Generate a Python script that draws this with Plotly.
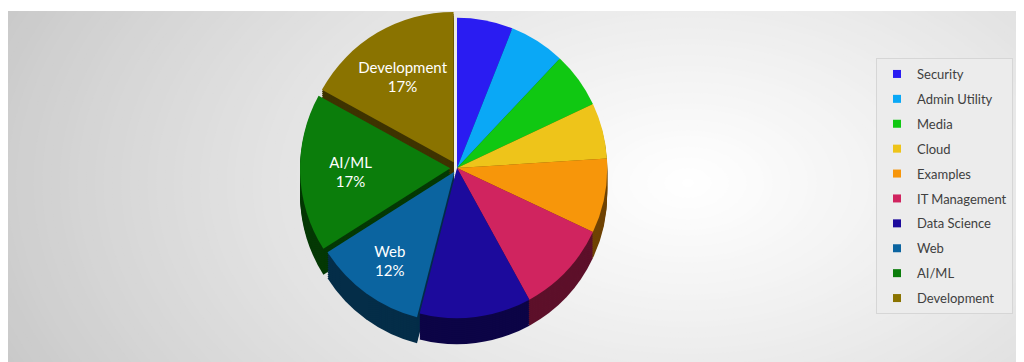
import plotly.graph_objects as go

W, H = 1024, 362

# ---- data ----
categories = ["Security", "Admin Utility", "Media", "Cloud", "Examples",
              "IT Management", "Data Science", "Web", "AI/ML", "Development"]
shares = [6, 6, 6, 6, 8, 10, 12, 12, 17, 17]
labelled = ["Web", "AI/ML", "Development"]

colors = ["#2a1cf2", "#0aa8f6", "#10c812", "#eec41a", "#f7960a",
          "#d0245f", "#1c0a9c", "#0b64a0", "#0b7d0b", "#8a7300"]
pulls = [0, 0, 0, 0, 0, 0, 0, 0.03, 0.045, 0.045]


def darken(hexc, f):
    h = hexc.lstrip("#")
    r, g, b = (int(h[i:i + 2], 16) for i in (0, 2, 4))
    return "#%02x%02x%02x" % (int(r * f), int(g * f), int(b * f))


side_colors = [darken(c, 0.45) for c in colors]

# pie geometry in pixels
cx, cy, half = 449, 160, 157  # centre (from top) and half domain size


def domain(offset):
    yc = H - (cy + offset)
    return dict(x=[(cx - half) / W, (cx + half) / W],
                y=[(yc - half) / H, (yc + half) / H])


fig = go.Figure()

# 3D side (stacked darker copies)
for off in range(26, 0, -2):
    fig.add_trace(go.Pie(
        labels=categories, values=shares, sort=False, direction="clockwise",
        rotation=0, pull=pulls, domain=domain(off),
        marker=dict(colors=side_colors, line=dict(width=0)),
        textinfo="none", hoverinfo="skip", showlegend=False))

texts = ["%{label}<br>%{percent:.0%}" if c in labelled else ""
         for c in categories]

fig.add_trace(go.Pie(
    labels=categories, values=shares, sort=False, direction="clockwise",
    rotation=0, pull=pulls, domain=domain(0),
    marker=dict(colors=colors, line=dict(width=0)),
    texttemplate=texts, textposition="inside",
    insidetextorientation="horizontal",
    textfont=dict(family="Lato", size=15, color="white"),
    showlegend=False, name=""))

# legend entries
for c, col in zip(categories, colors):
    fig.add_trace(go.Scatter(
        x=[None], y=[None], mode="markers", name=c, legendgroup=c,
        marker=dict(symbol="square", size=8, color=col)))

# radial gradient background
shapes = []
n = 90
gx, gy = 680, 175
for i in range(n):
    t = i / (n - 1)
    rx = 780 * (1 - t) + 6
    ry = 480 * (1 - t) + 4
    v = 196 + (255 - 196) * t ** 0.85
    col = "rgb(%.1f,%.1f,%.1f)" % (v, v, v)
    shapes.append(dict(type="circle", xref="paper", yref="paper",
                       x0=(gx - rx) / W, x1=(gx + rx) / W,
                       y0=(H - gy - ry) / H, y1=(H - gy + ry) / H,
                       fillcolor=col, line=dict(width=0), layer="below"))
# white frame strips
shapes.append(dict(type="rect", xref="paper", yref="paper", x0=0, x1=1,
                   y0=(H - 3) / H, y1=1.2, fillcolor="white",
                   line=dict(width=0), layer="below"))
shapes.append(dict(type="rect", xref="paper", yref="paper", x0=1019 / W, x1=1.2,
                   y0=-0.2, y1=1.2, fillcolor="white",
                   line=dict(width=0), layer="below"))

fig.update_layout(
    width=W, height=H, margin=dict(l=0, r=0, t=0, b=0),
    paper_bgcolor="white", plot_bgcolor="rgba(0,0,0,0)",
    xaxis=dict(visible=False), yaxis=dict(visible=False),
    shapes=shapes,
    showlegend=True,
    legend=dict(x=868 / W, y=1 - 50 / H, xanchor="left", yanchor="top",
                bgcolor="#ececec", bordercolor="#d6d6d6", borderwidth=1,
                font=dict(family="Lato", size=13, color="#404040"),
                tracegroupgap=5, itemwidth=30),
)

fig.write_html("out.html")
